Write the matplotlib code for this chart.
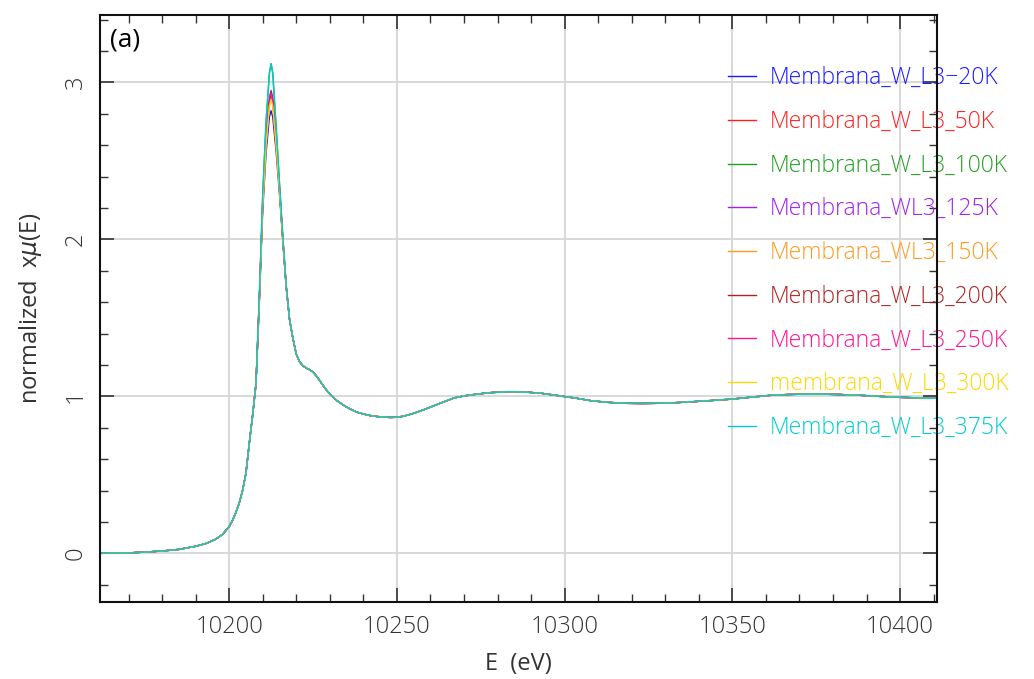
import numpy as np
import matplotlib.pyplot as plt
from matplotlib.ticker import MultipleLocator

# shared parts of the normalized W L3 edge (pre-edge + rising edge, post-edge oscillations)
e_pre = [10161.5, 10165, 10170, 10175, 10180, 10185, 10190, 10193, 10196, 10198,
         10200, 10201, 10202, 10203, 10204, 10205, 10206, 10207, 10208]
mu_pre = [0.0, 0.001, 0.003, 0.008, 0.015, 0.025, 0.045, 0.062, 0.09, 0.12,
          0.17, 0.21, 0.26, 0.32, 0.40, 0.51, 0.70, 0.88, 1.08]

e_post = [10218, 10219, 10220, 10221, 10222, 10223, 10224, 10225, 10226, 10227,
          10228, 10229, 10230, 10232, 10234, 10236, 10238, 10240, 10242, 10244,
          10246, 10248, 10250, 10252, 10255, 10258, 10261, 10264, 10267, 10270,
          10274, 10278, 10283, 10288, 10293, 10298, 10303, 10308, 10313, 10318,
          10323, 10328, 10333, 10338, 10344, 10350, 10356, 10362, 10368, 10375,
          10382, 10388, 10394, 10400, 10406, 10411]
mu_post = [1.49, 1.37, 1.27, 1.22, 1.195, 1.18, 1.17, 1.155, 1.13, 1.10,
           1.07, 1.04, 1.015, 0.975, 0.945, 0.92, 0.90, 0.888, 0.878, 0.872,
           0.868, 0.866, 0.867, 0.874, 0.892, 0.915, 0.94, 0.965, 0.99, 1.003,
           1.015, 1.024, 1.03, 1.028, 1.02, 1.005, 0.99, 0.972, 0.962, 0.956,
           0.955, 0.956, 0.96, 0.966, 0.974, 0.983, 0.996, 1.008, 1.013, 1.015,
           1.012, 1.007, 1.0, 0.994, 0.99, 0.988]

# white line region, where the temperatures differ
e_peak = [10209, 10210, 10211, 10212, 10212.5, 10213, 10214, 10215, 10216, 10217]
mu_20k = [1.60, 2.18, 2.55, 2.78, 2.82, 2.78, 2.56, 2.29, 1.99, 1.70]
mu_50k = [1.62, 2.22, 2.62, 2.88, 2.93, 2.88, 2.62, 2.32, 2.00, 1.70]
mu_100k = [1.64, 2.28, 2.75, 3.06, 3.12, 3.06, 2.72, 2.36, 2.02, 1.71]
mu_125k = [1.62, 2.23, 2.64, 2.90, 2.95, 2.90, 2.63, 2.32, 2.00, 1.70]
mu_150k = [1.61, 2.21, 2.61, 2.86, 2.91, 2.86, 2.61, 2.31, 2.00, 1.70]
mu_200k = [1.62, 2.22, 2.63, 2.89, 2.94, 2.89, 2.62, 2.32, 2.00, 1.70]
mu_250k = [1.62, 2.22, 2.62, 2.88, 2.93, 2.88, 2.62, 2.32, 2.00, 1.70]
mu_300k = [1.61, 2.21, 2.60, 2.85, 2.89, 2.85, 2.60, 2.31, 2.00, 1.70]
mu_375k = [1.64, 2.28, 2.75, 3.06, 3.12, 3.06, 2.72, 2.36, 2.02, 1.71]

labels = ["Membrana_W_L3\u221220K", "Membrana_W_L3_50K", "Membrana_W_L3_100K",
          "Membrana_WL3_125K", "Membrana_WL3_150K", "Membrana_W_L3_200K",
          "Membrana_W_L3_250K", "membrana_W_L3_300K", "Membrana_W_L3_375K"]
peaks = [mu_20k, mu_50k, mu_100k, mu_125k, mu_150k, mu_200k, mu_250k, mu_300k, mu_375k]
colors = ["#1a1aff", "#ff2020", "#22a022", "#a020f0", "#ff9a20",
          "#b22222", "#ff1493", "#ffd700", "#00cdcd"]

plt.rcParams['font.family'] = ['Open Sans', 'DejaVu Sans']
plt.rcParams['font.weight'] = 'light'

fig = plt.figure(figsize=(10.34, 6.79), dpi=100)
ax = fig.add_axes([0.0967, 0.1134, 0.8095, 0.8645])

for lab, pk, col in zip(labels, peaks, colors):
    e = e_pre + e_peak + e_post
    mu = mu_pre + pk + mu_post
    ax.plot(e, mu, color=col, lw=1.0, label=lab)

ax.set_xlim(10161.5, 10411)
ax.set_ylim(-0.31, 3.43)

ax.xaxis.set_major_locator(MultipleLocator(50))
ax.xaxis.set_minor_locator(MultipleLocator(10))
ax.yaxis.set_major_locator(MultipleLocator(1))
ax.yaxis.set_minor_locator(MultipleLocator(0.2))
ax.tick_params(which='both', direction='in', top=True, right=True, color='#333333')
ax.tick_params(which='major', length=10, width=1.2, labelsize=17, labelcolor='#333333', pad=9)
ax.tick_params(which='minor', length=6, width=1.0)
for t in ax.get_yticklabels():
    t.set_rotation(90)
    t.set_va('center')

ax.grid(True, which='major', color='#d6d6d6', lw=1.3)
ax.set_axisbelow(True)
for s in ax.spines.values():
    s.set_linewidth(1.5)
    s.set_color('#111111')

ax.set_xlabel("E  (eV)", fontsize=17, color='#333333', labelpad=10)
ax.set_ylabel("normalized  x$\\mu$(E)", fontsize=17, color='#333333', labelpad=14)

ax.text(0.012, 0.978, "(a)", transform=ax.transAxes, fontsize=19,
        family='Open Sans', fontweight='normal', va='top', ha='left')

leg = ax.legend(loc='upper left', bbox_to_anchor=(0.726, 0.948), frameon=False,
                fontsize=16.5, handlelength=1.2, handletextpad=0.6,
                labelspacing=0.86, labelcolor='linecolor')
leg.set_zorder(2.2)

fig.savefig("out.png", dpi=100)
